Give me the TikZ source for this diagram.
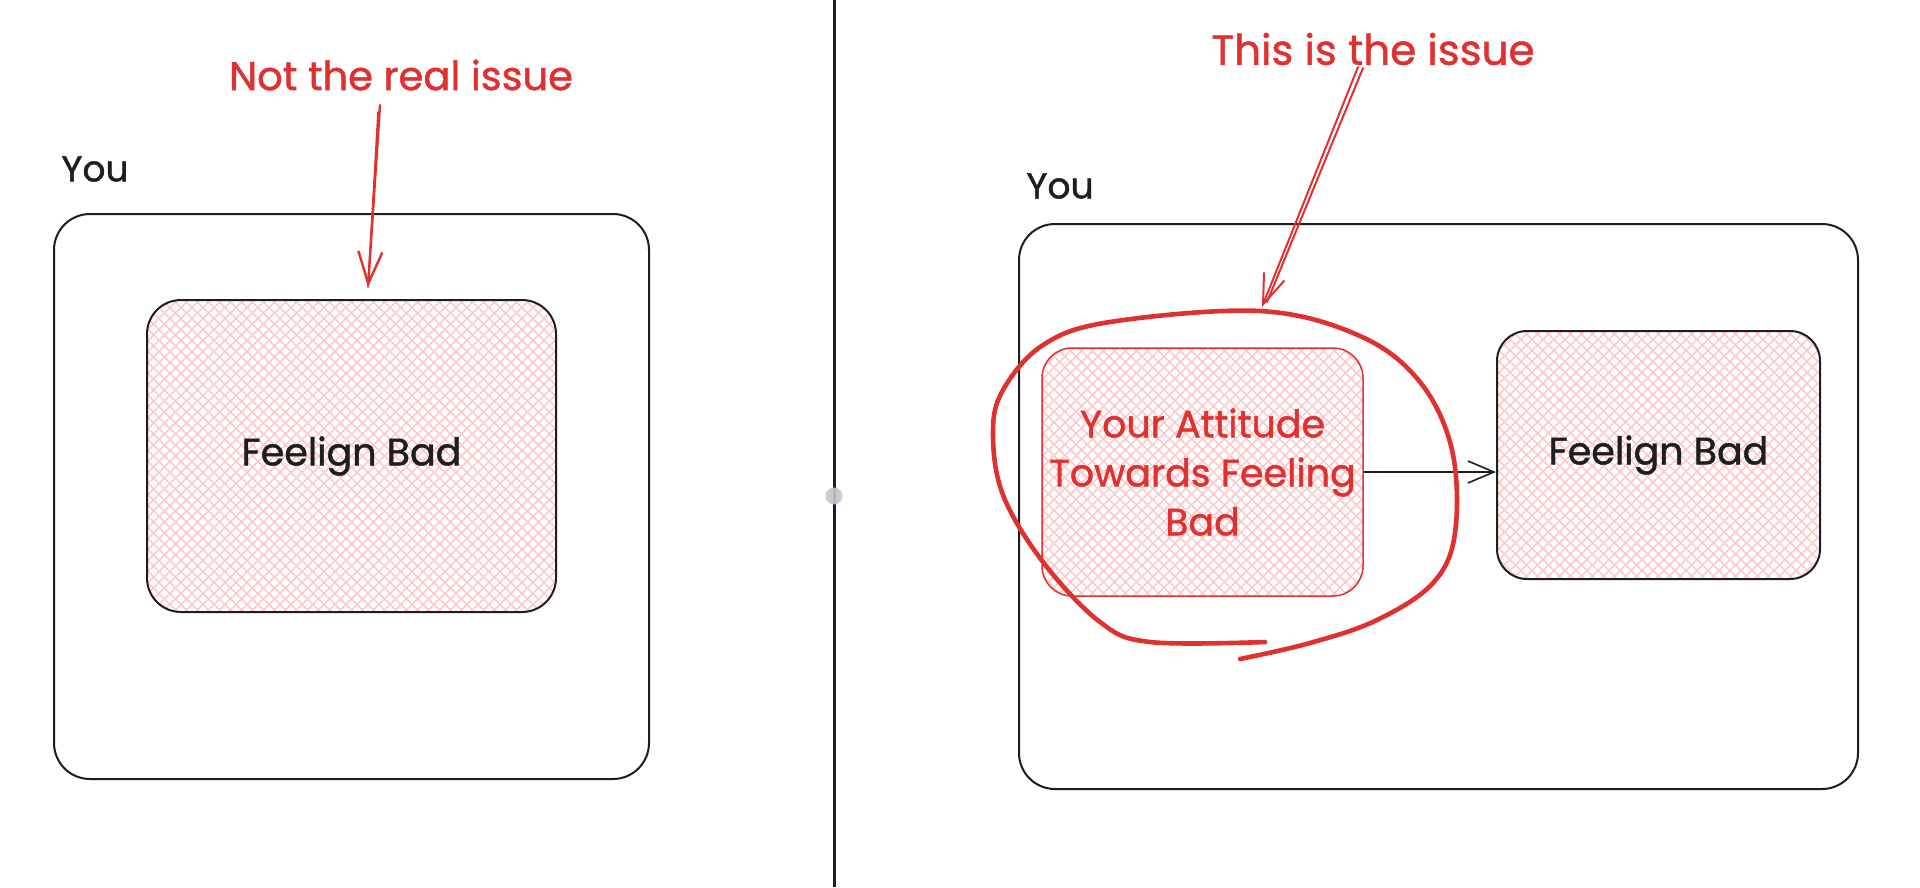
\documentclass[tikz,border=0pt]{standalone}
\usepackage{fontspec}
\setmainfont{Poppins}[FakeBold=1.2]
\usetikzlibrary{arrows.meta}
\definecolor{ink}{HTML}{1E1E1E}
\definecolor{xred}{HTML}{E03131}
\definecolor{xpink}{HTML}{FFC9C9}
\definecolor{dotgray}{HTML}{C6C6CF}
\begin{document}
\begin{tikzpicture}[x=1pt,y=-1pt,
  box/.style={draw=ink, line width=2pt, rounded corners=36pt, inner sep=0pt},
  hatch/.style={path picture={
     \foreach \i in {-75,...,75}{
       \draw[xpink, line width=1.6pt] ([xshift=\i*11pt]path picture bounding box.center) ++(-400pt,-400pt) -- ++(800pt,800pt);
       \draw[xpink, line width=1.6pt] ([xshift=\i*11pt]path picture bounding box.center) ++(-400pt,400pt) -- ++(800pt,-800pt);
     }}},
  lbl/.style={font=\fontsize{38}{44}\selectfont, text=ink, inner sep=0pt},
  note/.style={font=\fontsize{40}{44}\selectfont, text=xred, inner sep=0pt},
  attxt/.style={font=\fontsize{38}{49}\selectfont, text=xred, align=center},
  redline/.style={draw=xred, line width=2.4pt, line cap=round, line join=round},
  redtip/.style={-{Straight Barb[length=32pt,width=24pt]}},
]
\useasboundingbox (0,0) rectangle (1920,887);
\fill[white] (0,0) rectangle (1920,887);

% divider
\draw[ink, line width=3pt] (834,0) -- (834,887);
\fill[dotgray, opacity=0.9] (834,496) circle (8.5pt);

% ---------- left panel ----------
\node[box, minimum width=595pt, minimum height=565pt] (outerL) at (351.5,496.5) {};
\node[lbl, font=\fontsize{36}{44}\selectfont] (youL) at (95,169) {You};
\node[box, hatch, minimum width=409pt, minimum height=312pt, rounded corners=34pt, lbl, inner sep=0pt] (innerL) at (351.5,456) {Feelign Bad};
\node[note] (noteL) at (401,75) {Not the real issue};
\coordinate (aLs) at (380,105);
\coordinate (aLs2) at (378,112);
\coordinate (aLe) at (368,287);
\draw[redline, redtip] (aLs) -- (aLe);
\draw[redline, line width=1.6pt] (aLs2) -- (aLe);

% ---------- right panel ----------
\node[box, minimum width=839pt, minimum height=565pt] (outerR) at (1438.5,506.5) {};
\node[lbl, font=\fontsize{36}{44}\selectfont] (youR) at (1060,186) {You};
\node[box, hatch, draw=xred, line width=1.5pt, minimum width=321pt, minimum height=248pt, rounded corners=30pt, attxt] (att) at (1202.5,472) {Your Attitude\\Towards Feeling\\Bad};
\node[box, hatch, minimum width=323pt, minimum height=248pt, rounded corners=30pt, lbl] (feelR) at (1658.5,455) {Feelign Bad};
\draw[ink, line width=1.6pt, -{Straight Barb[length=26pt,width=22pt]}] (att.east) -- (feelR.west |- att.east);

\node[note, font=\fontsize{42}{44}\selectfont] (noteR) at (1373,49) {This is the issue};
\coordinate (aRs) at (1358,67);
\coordinate (aRs2) at (1363,68);
\coordinate (aRe) at (1262,307);
\coordinate (aRe2) at (1267,302);
\draw[redline, line width=2pt, -{Straight Barb[length=30pt,width=22pt]}] (aRs) -- (aRe);
\draw[redline, line width=2pt] (aRs2) -- (aRe2);

% hand-drawn loop
\draw[xred, line width=4.6pt, line cap=round, line join=round]
  plot[smooth, tension=0.6] coordinates {
   (1265,642) (1150,642) (1100,622) (1043,562) (1003,495) (993,433) (1003,390)
   (1043,345) (1110,322) (1260,311) (1360,336) (1420,382) (1452,450)
   (1455,533) (1433,583) (1377,620) (1310,643) (1240,659)};
\end{tikzpicture}
\end{document}
